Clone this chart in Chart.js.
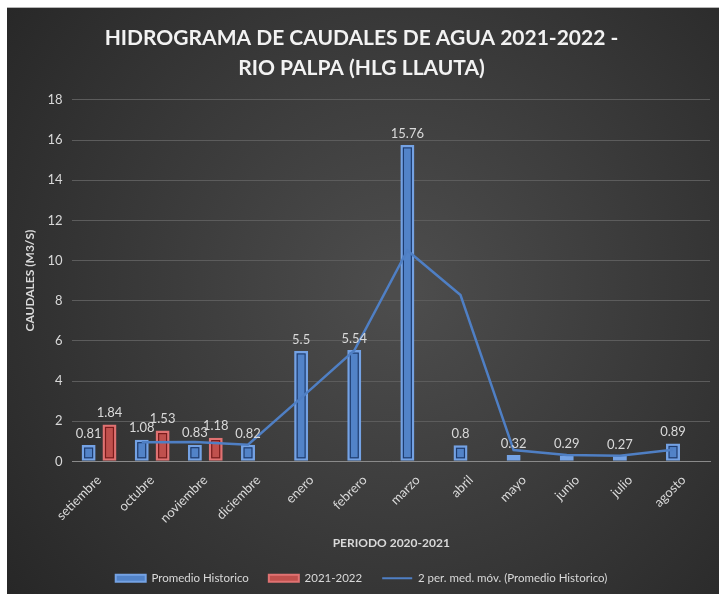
<!DOCTYPE html>
<html>
<head>
<meta charset="utf-8">
<script src="https://cdn.jsdelivr.net/npm/chart.js@4"></script>
<style>
  html, body { margin: 0; padding: 0; background: #fff; }
  #wrap { width: 719px; height: 594px; }
</style>
</head>
<body>
<div id="wrap"><canvas id="caudalChart" width="719" height="594"></canvas></div>
<script>
const MESES = ["setiembre", "octubre", "noviembre", "diciembre", "enero", "febrero",
  "marzo", "abril", "mayo", "junio", "julio", "agosto"];
const PROMEDIO_HISTORICO = [0.81, 1.08, 0.83, 0.82, 5.5, 5.54, 15.76, 0.8, 0.32, 0.29, 0.27, 0.89];
const TEMPORADA_2122 = [1.84, 1.53, 1.18, null, null, null, null, null, null, null, null, null];
// media movil de 2 periodos
const MEDIA_MOVIL = [null, 0.95, 0.96, 0.83, 3.16, 5.52, 10.5, 8.28, 0.56, 0.31, 0.28, 0.58];
const Y_TICKS = [0, 2, 4, 6, 8, 10, 12, 14, 16, 18];

const FONT = "Lato, 'Open Sans', sans-serif";
const TEXT = "#d9d9d9";

// fondo oscuro con degradado
const panelBg = {
  id: "panelBg",
  beforeDraw(chart) {
    const { ctx, width, height } = chart;
    ctx.save();
    ctx.fillStyle = "#fff";
    ctx.fillRect(0, 0, width, height);
    const g = ctx.createRadialGradient(400, 290, 20, 400, 290, 520);
    g.addColorStop(0, "#4c4c4c");
    g.addColorStop(1, "#252525");
    ctx.fillStyle = g;
    ctx.fillRect(7, 8, width - 7, height - 8);
    ctx.fillStyle = "#b5b5b5";
    ctx.fillRect(7, 7, width - 7, 1);
    ctx.restore();
  }
};

// linea interior oscura de las barras (estilo excel)
const INNER = ["#1f3d70", "#7a1c1c"];
const barInner = {
  id: "barInner",
  afterDatasetDraw(chart, args) {
    if (args.index > 1) return;
    const { ctx } = chart;
    ctx.save();
    ctx.strokeStyle = INNER[args.index];
    ctx.lineWidth = 1.2;
    args.meta.data.forEach((bar) => {
      if (bar.skip) return;
      const p = bar.getProps(["x", "y", "base", "width"], true);
      const h = p.base - p.y;
      if (h < 9) return;
      ctx.strokeRect(p.x - p.width / 2 + 3, p.y + 3, p.width - 6, h - 6);
    });
    ctx.restore();
  }
};

// la media movil va sobre las barras de la serie historica
const trendOnBars = {
  id: "trendOnBars",
  afterDatasetsUpdate(chart) {
    const bars = chart.getDatasetMeta(0).data;
    chart.getDatasetMeta(2).data.forEach((pt, i) => { pt.x = bars[i].x; });
  }
};

const barLabels = {
  id: "barLabels",
  afterDatasetsDraw(chart) {
    const { ctx } = chart;
    ctx.save();
    ctx.font = "13px " + FONT;
    ctx.fillStyle = TEXT;
    ctx.textAlign = "center";
    ctx.textBaseline = "bottom";
    [0, 1].forEach((di) => {
      const vals = chart.data.datasets[di].data;
      chart.getDatasetMeta(di).data.forEach((bar, i) => {
        if (vals[i] == null) return;
        ctx.fillText(String(vals[i]), bar.x, bar.y - 5);
      });
    });
    ctx.restore();
  }
};

new Chart(document.getElementById("caudalChart"), {
  type: "bar",
  data: {
    labels: MESES,
    datasets: [
      {
        label: "Promedio Historico",
        data: PROMEDIO_HISTORICO,
        backgroundColor: "#5283c8",
        borderColor: "#74a2e4",
        borderWidth: 3,
        borderSkipped: false,
        barPercentage: 0.67,
        categoryPercentage: 0.785,
        order: 2,
      },
      {
        label: "2021-2022",
        data: TEMPORADA_2122,
        backgroundColor: "#c0504d",
        borderColor: "#e07272",
        borderWidth: 3,
        borderSkipped: false,
        barPercentage: 0.67,
        categoryPercentage: 0.785,
        order: 2,
      },
      {
        type: "line",
        label: "2 per. med. móv. (Promedio Historico)",
        data: MEDIA_MOVIL,
        borderColor: "#4f7fc4",
        borderWidth: 2.5,
        pointRadius: 0,
        tension: 0,
        order: 1,
      },
    ],
  },
  options: {
    responsive: false,
    animation: false,
    layout: { padding: { left: 13, right: 9, top: 8, bottom: 0 } },
    plugins: {
      tooltip: { enabled: false },
      title: {
        display: true,
        text: ["HIDROGRAMA DE CAUDALES DE AGUA 2021-2022 -", "RIO PALPA (HLG LLAUTA)"],
        color: "#f2f2f2",
        font: { family: FONT, size: 21, weight: "bold", lineHeight: 1.45 },
        padding: { top: 15, bottom: 16 },
      },
      legend: {
        position: "bottom",
        labels: {
          color: TEXT,
          font: { family: FONT, size: 11.5 },
          usePointStyle: true,
          pointStyleWidth: 30,
          boxHeight: 7,
          padding: 20,
          generateLabels(chart) {
            return chart.data.datasets.map((ds, i) => ({
              text: ds.label,
              datasetIndex: i,
              fillStyle: i === 2 ? "transparent" : ds.backgroundColor,
              strokeStyle: ds.borderColor,
              lineWidth: 2,
              pointStyle: i === 2 ? "line" : "rect",
              fontColor: TEXT,
            }));
          },
        },
      },
    },
    scales: {
      x: {
        grid: { display: false },
        border: { color: "#8a8a8a" },
        ticks: {
          color: TEXT,
          font: { family: FONT, size: 13 },
          minRotation: 45,
          maxRotation: 45,
        },
        title: {
          display: true,
          text: "PERIODO 2020-2021",
          color: TEXT,
          font: { family: FONT, size: 12, weight: "bold" },
          padding: { top: 7, bottom: 2 },
        },
      },
      y: {
        min: 0,
        max: 18,
        afterBuildTicks(axis) { axis.ticks = Y_TICKS.map((v) => ({ value: v })); },
        grid: { color: "#5c5c5c", drawTicks: false },
        border: { display: false },
        ticks: { color: TEXT, font: { family: FONT, size: 13 }, padding: 10 },
        title: {
          display: true,
          text: "CAUDALES (M3/S)",
          color: TEXT,
          font: { family: FONT, size: 12, weight: "bold" },
          padding: { top: 10, bottom: 0 },
        },
      },
    },
  },
  plugins: [panelBg, trendOnBars, barInner, barLabels],
});
</script>
</body>
</html>
